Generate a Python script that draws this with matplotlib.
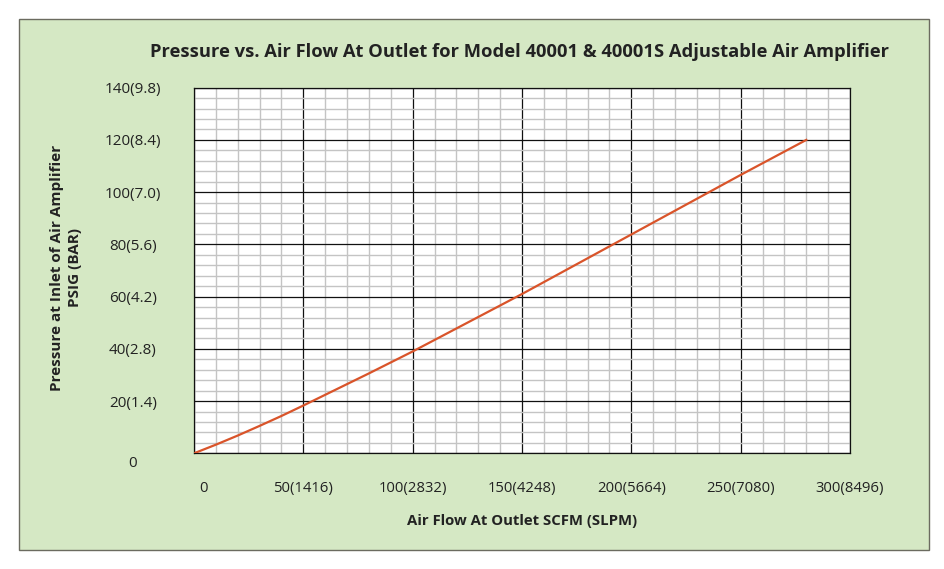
import numpy as np
import matplotlib.pyplot as plt
import matplotlib.transforms as mtransforms
from matplotlib.patches import Rectangle

# data
flow_scfm = [0, 10, 20, 30, 40, 50, 60, 70, 80, 90, 100, 125, 150, 175, 200, 225, 250, 280]
pressure_psig = [0, 3.3, 6.8, 10.5, 14.3, 18.3, 22.4, 26.5, 30.6, 34.8, 39.0, 50.0,
                 61.0, 72.4, 83.8, 95.2, 106.6, 120.0]

x_ticks = [0, 50, 100, 150, 200, 250, 300]
x_labels = ['0', '50(1416)', '100(2832)', '150(4248)', '200(5664)', '250(7080)', '300(8496)']
y_ticks = [0, 20, 40, 60, 80, 100, 120, 140]
y_labels = ['0', '20(1.4)', '40(2.8)', '60(4.2)', '80(5.6)', '100(7.0)', '120(8.4)', '140(9.8)']

plt.rcParams['font.family'] = ['Open Sans', 'DejaVu Sans']

W, H = 944, 569
fig = plt.figure(figsize=(W / 100, H / 100), dpi=100)
fig.patch.set_facecolor('white')

# green chart area
fig.patches.append(Rectangle((19 / W, 1 - 550 / H), (929 - 19) / W, (550 - 19) / H,
                             transform=fig.transFigure, facecolor='#d5e8c4',
                             edgecolor='#6b6b60', linewidth=1.0, zorder=-5))

ax = fig.add_axes([194 / W, 1 - 453.3 / H, (850 - 194) / W, (453.3 - 87.7) / H])
ax.set_zorder(2)
ax.set_facecolor('white')
ax.plot(flow_scfm, pressure_psig, color='#d9542a', linewidth=1.6, zorder=3)

ax.set_xlim(0, 300)
ax.set_ylim(0, 140)
ax.set_xticks(x_ticks)
ax.set_xticklabels(x_labels, fontsize=10.7, color='#222222')
ax.set_yticks(y_ticks)
ax.set_yticklabels(y_labels, fontsize=11, color='#222222', ha='center')
ax.set_xticks(np.arange(0, 301, 10), minor=True)
ax.set_yticks(np.arange(0, 141, 4), minor=True)
ax.tick_params(which='both', length=0)
ax.tick_params(axis='y', pad=44)
ax.tick_params(axis='x', pad=20)

ax.grid(which='minor', color='#c4c4c4', linewidth=1.0, zorder=1)
ax.grid(which='major', color='#111111', linewidth=0.9, zorder=2)
ax.set_axisbelow(True)
for s in ax.spines.values():
    s.set_color('#111111')
    s.set_linewidth(0.9)

# nudge the zero labels like the original
off_x = mtransforms.ScaledTranslation(9 / 100, 0, fig.dpi_scale_trans)
ax.get_xticklabels()[0].set_transform(ax.get_xticklabels()[0].get_transform() + off_x)
off_y = mtransforms.ScaledTranslation(0, -8 / 100, fig.dpi_scale_trans)
ax.get_yticklabels()[0].set_transform(ax.get_yticklabels()[0].get_transform() + off_y)

fig.text(520 / W, 1 - 52 / H,
         'Pressure vs. Air Flow At Outlet for Model 40001 & 40001S Adjustable Air Amplifier',
         ha='center', va='center', fontsize=13.2, fontweight='bold', color='#222222')
fig.text(522 / W, 1 - 521 / H, 'Air Flow At Outlet SCFM (SLPM)',
         ha='center', va='center', fontsize=10.7, fontweight='bold', color='#222222')
fig.text(66 / W, 1 - 268 / H, 'Pressure at Inlet of Air Amplifier\nPSIG (BAR)',
         ha='center', va='center', rotation=90, fontsize=11, fontweight='bold',
         color='#222222', linespacing=1.4)

plt.savefig('out.png', dpi=100)
